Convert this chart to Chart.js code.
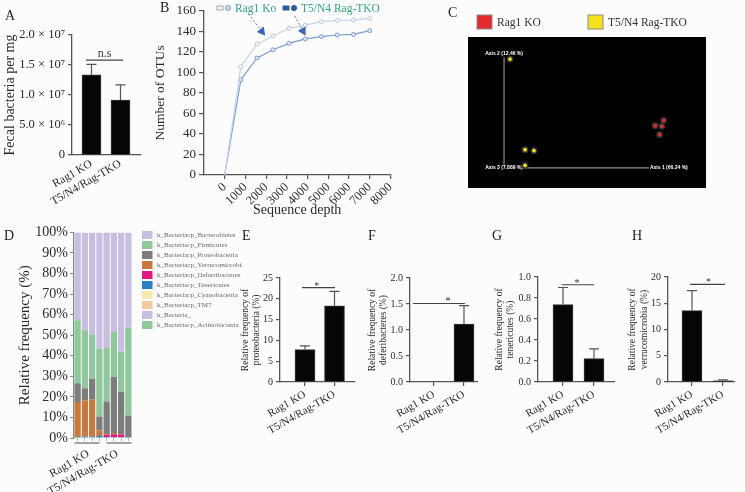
<!DOCTYPE html>
<html>
<head>
<meta charset="utf-8">
<script src="https://cdn.jsdelivr.net/npm/chart.js@4.4.1/dist/chart.umd.min.js"></script>
<style>
  html, body { margin: 0; padding: 0; background: #fcfcfc; }
  #fig { position: relative; width: 745px; height: 492px; overflow: hidden; font-family: "Liberation Serif", "DejaVu Serif", serif; }
  .box { position: absolute; }
  .letter { position: absolute; font-size: 14px; line-height: 1; color: #222; }
</style>
</head>
<body>
<div id="fig">
  <div class="box" id="boxA"><canvas id="chartA"></canvas></div>
  <div class="box" id="boxB"><canvas id="chartB"></canvas></div>
  <div class="box" id="boxC"><canvas id="chartC"></canvas></div>
  <div class="box" id="boxD"><canvas id="chartD"></canvas></div>
  <div class="box" id="boxE"><canvas id="chartE"></canvas></div>
  <div class="box" id="boxF"><canvas id="chartF"></canvas></div>
  <div class="box" id="boxG"><canvas id="chartG"></canvas></div>
  <div class="box" id="boxH"><canvas id="chartH"></canvas></div>
  <div class="letter" style="left:5px;top:9px">A</div>
  <div class="letter" style="left:160px;top:1px">B</div>
  <div class="letter" style="left:448px;top:6px">C</div>
  <div class="letter" style="left:4px;top:229px">D</div>
  <div class="letter" style="left:242px;top:229px">E</div>
  <div class="letter" style="left:368px;top:229px">F</div>
  <div class="letter" style="left:492px;top:229px">G</div>
  <div class="letter" style="left:632px;top:229px">H</div>
</div>
<script>
Chart.defaults.font.family = '"Liberation Serif", "DejaVu Serif", serif';
Chart.defaults.color = '#2a2a2a';
Chart.defaults.animation = false;
Chart.defaults.responsive = true;
Chart.defaults.maintainAspectRatio = false;
Chart.defaults.plugins.legend.display = false;
Chart.defaults.plugins.tooltip.enabled = false;

// ---- data ----
const groups = ['Rag1 KO', 'T5/N4/Rag-TKO'];

// A: fecal bacteria
const fecalMean = [1.335e7, 9.17e6];
const fecalErr = [1.51e7, 1.17e7];
const fecalTicks = ['0', '5.0 × 10⁶', '1.0 × 10⁷', '1.5 × 10⁷', '2.0 × 10⁷'];

// B: rarefaction
const otuSeries = ['Rag1 Ko', 'T5/N4 Rag-TKO'];
const depth = [0, 780, 1560, 2330, 3110, 3890, 4670, 5440, 6220, 7000];
const otuRag1 = [0, 105.5, 127.5, 135.5, 143, 146, 149.4, 150.7, 151, 152.6];
const otuTko = [0, 92.8, 114, 122, 128.3, 132.6, 134.8, 136.4, 137, 140.6];

// C: PCoA
const pcoaGroups = ['Rag1 KO', 'T5/N4 Rag-TKO'];
const pcoaRag1X = [1.036, 1.094, 1.082, 1.066];
const pcoaRag1Y = [0.380, 0.428, 0.374, 0.299];
const pcoaTkoX = [0.041, 0.144, 0.205, 0.144];
const pcoaTkoY = [0.979, 0.164, 0.155, 0.023];
const pcoaAxes = ['Axis 1 (66.24 %)', 'Axis 2 (12.46 %)', 'Axis 3 (7.889 %)'];

// D: relative frequency per sample (legend order)
const samples = ['R1', 'R2', 'R3', 'R4', 'T1', 'T2', 'T3', 'T4'];
const phyla = ['k_Bacteriacp_Bacteroidetes', 'k_Bacteriacp_Firmicutes', 'k_Bacteriacp_Proteobacteria',
  'k_Bacteriacp_Verrucomicrobia', 'k_Bacteriacp_Deferribacteres', 'k_Bacteriacp_Tenericutes',
  'k_Bacteriacp_Cyanobacteria', 'k_Bacteriacp_TM7', 'k_Bacteria_', 'k_Bacteriacp_Actinobacteria'];
const bacteroidetes = [42.7, 47.6, 49.6, 56.5, 56.2, 48.5, 58.0, 46.4];
const firmicutes = [30.7, 28.2, 21.6, 33.1, 26.0, 21.8, 19.5, 42.6];
const proteobacteria = [9.1, 5.8, 10.0, 6.8, 16.0, 27.3, 20.5, 10.5];
const verrucomicrobia = [17.0, 17.7, 18.2, 2.6, 0.2, 0.6, 0.3, 0.0];
const deferribacteres = [0.0, 0.0, 0.0, 0.0, 1.1, 1.4, 1.3, 0.0];
const tenericutes = [0.3, 0.5, 0.3, 0.8, 0.2, 0.2, 0.2, 0.2];
const cyanobacteria = [0.0, 0.0, 0.1, 0.0, 0.0, 0.0, 0.0, 0.0];
const tm7 = [0.0, 0.0, 0.0, 0.0, 0.1, 0.0, 0.0, 0.0];
const bacteriaOther = [0.1, 0.1, 0.1, 0.1, 0.1, 0.1, 0.1, 0.1];
const actinobacteria = [0.1, 0.1, 0.1, 0.1, 0.1, 0.1, 0.1, 0.2];
const phylumValues = [bacteroidetes, firmicutes, proteobacteria, verrucomicrobia, deferribacteres,
  tenericutes, cyanobacteria, tm7, bacteriaOther, actinobacteria];
const phylumColors = ['#c8bfe0', '#8ec89c', '#7d7d7d', '#c77a3f', '#e3177f', '#2a80c0',
  '#f4ecae', '#f3c9a2', '#c8bfe0', '#8ec89c'];

// E-H
const proteoMean = [7.8, 18.3], proteoErr = [8.7, 21.8];
const deferMean = [0, 1.115], deferErr = [0, 1.47];
const teneriMean = [0.737, 0.222], teneriErr = [0.90, 0.315];
const verrucoMean = [13.6, 0.24], verrucoErr = [17.4, 0.4];

// ---- layout (page px) ----
function place(id, b) {
  const el = document.getElementById(id);
  el.style.left = b.l + 'px'; el.style.top = b.t + 'px';
  el.style.width = b.w + 'px'; el.style.height = b.h + 'px';
}
function padOf(b, a) {
  return {top: a.t - b.t, right: b.l + b.w - a.r, left: 0, bottom: 0};
}

const serif = '"Liberation Serif", "DejaVu Serif", serif';
const axisCol = '#555';

// ---- plugins ----
const errorBars = {
  id: 'errorBars',
  afterDatasetsDraw(chart) {
    const {ctx, scales: {y}} = chart;
    chart.data.datasets.forEach((ds, di) => {
      if (!ds.errTop) return;
      chart.getDatasetMeta(di).data.forEach((bar, i) => {
        if (ds.errTop[i] <= ds.data[i].y) return;
        const yt = y.getPixelForValue(ds.errTop[i]);
        ctx.save();
        ctx.strokeStyle = '#555'; ctx.lineWidth = 1.2;
        ctx.beginPath();
        ctx.moveTo(bar.x, bar.y); ctx.lineTo(bar.x, yt);
        ctx.moveTo(bar.x - 5, yt); ctx.lineTo(bar.x + 5, yt);
        ctx.stroke();
        ctx.restore();
      });
    });
  }
};

const bracket = {
  id: 'bracket',
  afterDraw(chart, args, o) {
    const {ctx, scales: {x, y}} = chart;
    const yy = y.getPixelForValue(o.at);
    ctx.save();
    ctx.strokeStyle = '#444'; ctx.lineWidth = 1.2;
    ctx.beginPath();
    ctx.moveTo(x.getPixelForValue(o.from), yy); ctx.lineTo(x.getPixelForValue(o.to), yy);
    ctx.stroke();
    ctx.fillStyle = '#333'; ctx.textAlign = 'center'; ctx.textBaseline = 'alphabetic';
    ctx.font = o.size + 'px ' + serif;
    ctx.fillText(o.text, x.getPixelForValue(o.textAt), yy + o.dy);
    ctx.restore();
  }
};

function barPanel(id, box, area, cfg) {
  place('box' + id, box);
  return new Chart(document.getElementById('chart' + id), {
    type: 'bar',
    data: {
      datasets: [{
        data: cfg.mean.map((v, i) => ({x: i + 1, y: v})),
        errTop: cfg.err,
        backgroundColor: '#060606',
        borderColor: '#3a3a3a',
        borderWidth: 1,
        barThickness: cfg.barW
      }]
    },
    options: {
      layout: {padding: padOf(box, area)},
      scales: {
        x: {
          type: 'linear', min: cfg.xMin, max: cfg.xMax, offset: false,
          afterBuildTicks: s => { s.ticks = [{value: 1}, {value: 2}]; },
          afterFit: s => { s.height = box.t + box.h - area.b; },
          ticks: {callback: v => groups[v - 1], minRotation: 30, maxRotation: 30, autoSkip: false,
                  font: {size: cfg.xFont}, color: '#2a2a2a', padding: 2},
          grid: {drawOnChartArea: false, offset: false, drawTicks: cfg.xTick > 0, tickLength: cfg.xTick, color: axisCol, lineWidth: 1.2},
          border: {color: axisCol, width: 1.3}
        },
        y: {
          min: 0, max: cfg.yMax,
          ticks: {stepSize: cfg.yStep, callback: cfg.tickFmt, font: {size: cfg.yFont}, color: '#2a2a2a', padding: 3},
          grid: {drawOnChartArea: false, tickLength: 4, color: axisCol, lineWidth: 1.2},
          border: {color: axisCol, width: 1.3},
          title: {display: true, text: cfg.title, font: {size: cfg.titleFont}, color: '#2a2a2a',
                  padding: {top: cfg.titlePad, bottom: 0}},
          afterFit: s => { s.width = area.l - box.l; }
        }
      },
      plugins: {bracket: cfg.bracket}
    },
    plugins: [errorBars, bracket]
  });
}

// ---- A ----
barPanel('A', {l: 0, t: 0, w: 145, h: 222}, {l: 72, t: 35, r: 141, b: 155}, {
  mean: fecalMean, err: fecalErr, barW: 19, xMin: 0.328, xMax: 2.707,
  yMax: 2e7, yStep: 5e6, tickFmt: (v, i) => fecalTicks[i], yFont: 12.5, xFont: 11.5, xTick: 0,
  title: 'Fecal bacteria per mg', titleFont: 14, titlePad: 1.6,
  bracket: {at: 1.58e7, from: 0.81, to: 2.09, textAt: 1.45, text: 'n.s', size: 12, dy: -3}
});

// ---- E-H ----
barPanel('E', {l: 232, t: 268, w: 128, h: 172}, {l: 280, t: 278, r: 355, b: 382}, {
  mean: proteoMean, err: proteoErr, barW: 20, xMin: 0.153, xMax: 2.695,
  yMax: 25, yStep: 5, tickFmt: v => v, yFont: 10, xFont: 11, xTick: 4,
  title: ['Relative frequency of', 'proteobacteria (%)'], titleFont: 9.5, titlePad: 7.5,
  bracket: {at: 22.7, from: 0.9, to: 2.02, textAt: 1.4, text: '*', size: 10, dy: 1}
});
barPanel('F', {l: 362, t: 268, w: 120, h: 172}, {l: 410, t: 278, r: 478, b: 382}, {
  mean: deferMean, err: deferErr, barW: 20, xMin: 0.2, xMax: 2.467,
  yMax: 2, yStep: 0.5, tickFmt: v => v.toFixed(1), yFont: 10, xFont: 11, xTick: 4,
  title: ['Relative frequency of', 'deferibacteres (%)'], titleFont: 9.5, titlePad: 4.5,
  bracket: {at: 1.51, from: 0.3, to: 2.03, textAt: 1.47, text: '*', size: 10, dy: 1}
});
barPanel('G', {l: 490, t: 268, w: 128, h: 172}, {l: 538, t: 274, r: 615, b: 382}, {
  mean: teneriMean, err: teneriErr, barW: 20, xMin: 0.194, xMax: 2.677,
  yMax: 1, yStep: 0.2, tickFmt: v => v.toFixed(1), yFont: 10, xFont: 11, xTick: 4,
  title: ['Relative frequency of', 'tenericutes (%)'], titleFont: 9.5, titlePad: 3.8,
  bracket: {at: 0.926, from: 0.96, to: 2.01, textAt: 1.45, text: '*', size: 10, dy: 1}
});
barPanel('H', {l: 620, t: 268, w: 125, h: 172}, {l: 668, t: 273, r: 735, b: 382}, {
  mean: verrucoMean, err: verrucoErr, barW: 20, xMin: 0.226, xMax: 2.387,
  yMax: 20, yStep: 5, tickFmt: v => v, yFont: 10, xFont: 11, xTick: 4,
  title: ['Relative frequency of', 'verrucomicrobia (%)'], titleFont: 9.5, titlePad: 7,
  bracket: {at: 18.6, from: 0.94, to: 2.06, textAt: 1.53, text: '*', size: 10, dy: 1}
});

// ---- B ----
const otuDecor = {
  id: 'otuDecor',
  afterDraw(chart, args, o) {
    const {ctx, scales: {x, y}} = chart;
    ctx.save();
    chart.data.datasets.forEach((ds, i) => {
      const lx = o.legendX[i], ly = o.legendY;
      ctx.lineWidth = 1;
      ctx.fillStyle = o.rectFill[i]; ctx.strokeStyle = o.rectStroke[i];
      ctx.fillRect(lx, ly - 2, 6, 4); ctx.strokeRect(lx, ly - 2, 6, 4);
      ctx.fillStyle = o.dotFill[i];
      ctx.beginPath(); ctx.arc(lx + 11, ly, 2.6, 0, Math.PI * 2); ctx.fill(); ctx.stroke();
      ctx.fillStyle = '#36a57b'; ctx.font = '11.5px ' + serif; ctx.textBaseline = 'middle';
      ctx.fillText(ds.label, lx + 18, ly + 0.5);
    });
    o.arrows.forEach(a => {
      const x1 = x.getPixelForValue(a[0]), y1 = y.getPixelForValue(a[1]);
      const x2 = x.getPixelForValue(a[2]), y2 = y.getPixelForValue(a[3]);
      const ang = Math.atan2(y2 - y1, x2 - x1), c = Math.cos(ang), s = Math.sin(ang);
      ctx.setLineDash([2, 2]); ctx.strokeStyle = '#5d6e9c'; ctx.lineWidth = 1;
      ctx.beginPath(); ctx.moveTo(x1, y1); ctx.lineTo(x2 - 6 * c, y2 - 6 * s); ctx.stroke();
      ctx.setLineDash([]);
      ctx.fillStyle = '#3d64b5';
      ctx.beginPath(); ctx.moveTo(x2, y2);
      ctx.lineTo(x2 - 8 * c + 4.5 * s, y2 - 8 * s - 4.5 * c);
      ctx.lineTo(x2 - 8 * c - 4.5 * s, y2 - 8 * s + 4.5 * c);
      ctx.closePath(); ctx.fill();
    });
    ctx.restore();
  }
};

const boxB = {l: 140, t: 0, w: 262, h: 222}, areaB = {l: 204, t: 10, r: 394, b: 175};
place('boxB', boxB);
new Chart(document.getElementById('chartB'), {
  type: 'line',
  data: {
    datasets: [
      {label: otuSeries[0], data: depth.map((d, i) => ({x: d, y: otuRag1[i]})),
       borderColor: '#c6d3ea', borderWidth: 1.2, pointRadius: c => c.dataIndex === 0 ? 0 : 2,
       pointBackgroundColor: '#ffffff', pointBorderColor: '#b4c3de', pointBorderWidth: 1},
      {label: otuSeries[1], data: depth.map((d, i) => ({x: d, y: otuTko[i]})),
       borderColor: '#7b9dcf', borderWidth: 1.2, pointRadius: c => c.dataIndex === 0 ? 0 : 2,
       pointBackgroundColor: '#dfe7f5', pointBorderColor: '#7b9dcf', pointBorderWidth: 1}
    ]
  },
  options: {
    layout: {padding: padOf(boxB, areaB)},
    scales: {
      x: {
        type: 'linear', min: -1000, max: 8000,
        afterBuildTicks: s => { s.ticks = s.ticks.filter(t => t.value >= 0); },
        afterFit: s => { s.height = boxB.t + boxB.h - areaB.b; },
        ticks: {stepSize: 1000, callback: v => String(v), minRotation: 45, maxRotation: 45,
                autoSkip: false, font: {size: 12.5}, padding: 1},
        grid: {drawOnChartArea: false, tickLength: 4, color: axisCol, lineWidth: 1.2},
        border: {color: axisCol, width: 1.3},
        title: {display: true, text: 'Sequence depth', font: {size: 14}, padding: {top: 0, bottom: 3}}
      },
      y: {
        min: 0, max: 160,
        ticks: {stepSize: 20, font: {size: 13}, padding: 3},
        grid: {drawOnChartArea: false, tickLength: 5, color: axisCol, lineWidth: 1.2},
        border: {color: axisCol, width: 1.3},
        title: {display: true, text: 'Number of OTUs', font: {size: 13.5}, padding: {top: 12, bottom: 0}},
        afterFit: s => { s.width = areaB.l - boxB.l; }
      }
    },
    plugins: {
      otuDecor: {
        legendX: [77, 143], legendY: 8,
        rectFill: ['#f4f6fb', '#2f5c9c'], rectStroke: ['#98a6c2', '#2f5c9c'], dotFill: ['#c9d2e6', '#2f5c9c'],
        arrows: [[1143, 157, 1952, 135.8], [3381, 155, 3905, 135.8]]
      }
    }
  },
  plugins: [otuDecor]
});

// ---- C ----
const pcoaFrame = {
  id: 'pcoaFrame',
  beforeDatasetsDraw(chart) {
    const {ctx, chartArea: a, scales: {x, y}} = chart;
    const x0 = x.getPixelForValue(0), y0 = y.getPixelForValue(0);
    const x1 = x.getPixelForValue(1), y1 = y.getPixelForValue(1);
    ctx.save();
    ctx.fillStyle = '#000'; ctx.fillRect(a.left, a.top, a.width, a.height);
    ctx.strokeStyle = '#8f8f8f'; ctx.lineWidth = 1.2;
    ctx.beginPath(); ctx.moveTo(x0, y1); ctx.lineTo(x0, y0); ctx.lineTo(x1, y0); ctx.stroke();
    ctx.font = 'bold 5px "Liberation Sans", Arial, sans-serif'; ctx.textBaseline = 'middle';
    const lab = (t, px, py, align) => {
      const w = ctx.measureText(t).width;
      const lx = align === 'center' ? px - w / 2 : px;
      ctx.fillStyle = '#000'; ctx.fillRect(lx - 1, py - 3.5, w + 2, 7);
      ctx.fillStyle = '#fff'; ctx.textAlign = 'left'; ctx.fillText(t, lx, py);
    };
    lab(pcoaAxes[1], x0, y1 - 3, 'center');
    lab(pcoaAxes[2], x0, y0, 'center');
    lab(pcoaAxes[0], x1, y0, 'left');
    ctx.restore();
  },
  afterDraw(chart, args, o) {
    const {ctx} = chart;
    ctx.save();
    chart.data.datasets.forEach((ds, i) => {
      ctx.fillStyle = ds.backgroundColor; ctx.strokeStyle = '#8a8a8a'; ctx.lineWidth = 1;
      ctx.fillRect(o.legendX[i], o.legendY, 15, 14); ctx.strokeRect(o.legendX[i], o.legendY, 15, 14);
      ctx.fillStyle = '#333'; ctx.font = '11.5px ' + serif; ctx.textBaseline = 'middle';
      ctx.fillText(ds.label, o.legendX[i] + 20, o.legendY + 7.5);
    });
    ctx.restore();
  }
};

const boxC = {l: 440, t: 0, w: 305, h: 200}, areaC = {l: 468, t: 37, r: 706, b: 188};
place('boxC', boxC);
new Chart(document.getElementById('chartC'), {
  type: 'scatter',
  data: {
    datasets: [
      {label: pcoaGroups[0], data: pcoaRag1X.map((v, i) => ({x: v, y: pcoaRag1Y[i]})),
       backgroundColor: '#e42a2e', borderColor: '#333333', borderWidth: 1.5, pointRadius: 2.6},
      {label: pcoaGroups[1], data: pcoaTkoX.map((v, i) => ({x: v, y: pcoaTkoY[i]})),
       backgroundColor: '#f6e21c', borderColor: '#333333', borderWidth: 1.5, pointRadius: 2.6}
    ]
  },
  options: {
    layout: {padding: {top: areaC.t - boxC.t, left: areaC.l - boxC.l, right: boxC.l + boxC.w - areaC.r, bottom: boxC.t + boxC.h - areaC.b}},
    scales: {
      x: {display: false, min: -0.247, max: 1.384},
      y: {display: false, min: -0.18, max: 1.177}
    },
    plugins: {pcoaFrame: {legendX: [37, 148], legendY: 15}}
  },
  plugins: [pcoaFrame]
});

// ---- D ----
const taxaDecor = {
  id: 'taxaDecor',
  afterDraw(chart, args, o) {
    const {ctx, chartArea: a} = chart;
    const bars = chart.getDatasetMeta(0).data;
    ctx.save();
    ctx.strokeStyle = '#666'; ctx.lineWidth = 1.2;
    o.groupSpans.forEach(([s, e], g) => {
      let x1 = bars[s].x - bars[s].width / 2, x2 = bars[e].x + bars[e].width / 2;
      if (g === 0) x2 -= 3; else x1 += 3;
      ctx.beginPath(); ctx.moveTo(x1, a.bottom + 5); ctx.lineTo(x2, a.bottom + 5); ctx.stroke();
    });
    const list = chart.data.datasets.slice().reverse();
    ctx.font = '7px ' + serif; ctx.textBaseline = 'middle';
    list.forEach((d, i) => {
      const cy = o.legendTop + i * o.legendStep;
      ctx.fillStyle = d.backgroundColor; ctx.fillRect(o.legendX, cy - 4, 10.5, 8);
      ctx.fillStyle = '#666'; ctx.fillText(d.label, o.legendX + 15, cy);
    });
    ctx.restore();
  }
};

const boxD = {l: 0, t: 222, w: 242, h: 270}, areaD = {l: 74, t: 230, r: 132, b: 438};
place('boxD', boxD);
new Chart(document.getElementById('chartD'), {
  type: 'bar',
  data: {
    labels: samples,
    datasets: phyla.map((n, i) => ({
      label: n, data: phylumValues[i], backgroundColor: phylumColors[i],
      barPercentage: 0.86, categoryPercentage: 1
    })).reverse()
  },
  options: {
    layout: {padding: padOf(boxD, areaD)},
    scales: {
      x: {
        stacked: true, weight: 0,
        ticks: {display: false},
        grid: {drawOnChartArea: false, offset: false, tickLength: 3, color: '#b5b5b5'},
        border: {display: false},
        afterFit: s => { s.height = 4; }
      },
      x2: {
        type: 'category', labels: groups, position: 'bottom', weight: 1, offset: true,
        grid: {display: false}, border: {display: false},
        ticks: {minRotation: 30, maxRotation: 30, autoSkip: false, font: {size: 11.5}, padding: -3},
        afterFit: s => { s.height = boxD.t + boxD.h - areaD.b - 4; }
      },
      y: {
        stacked: true, min: 0, max: 100,
        ticks: {stepSize: 10, callback: v => v + '%', font: {size: 14}, padding: 2},
        grid: {drawOnChartArea: false, tickLength: 4, color: '#888'},
        border: {color: '#888', width: 1.2},
        title: {display: true, text: 'Relative frequency (%)', font: {size: 15}, padding: {top: 16, bottom: 0}},
        afterFit: s => { s.width = areaD.l - boxD.l; }
      }
    },
    plugins: {taxaDecor: {groupSpans: [[0, 3], [4, 7]], legendX: 142, legendTop: 13, legendStep: 10}}
  },
  plugins: [taxaDecor]
});
</script>
</body>
</html>
